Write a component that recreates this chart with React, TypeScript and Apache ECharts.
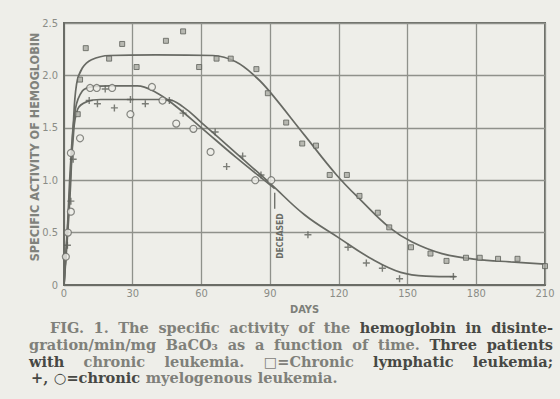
import React, { useEffect, useRef } from "react";
import * as echarts from "echarts";

// Axis ticks
const xTicks = [0, 30, 60, 90, 120, 150, 180, 210];
const yTicks = [0, 0.5, 1.0, 1.5, 2.0, 2.5];

// □ chronic lymphatic leukemia — measured points [day, activity]
const cllPoints: [number, number][] = [
  [6, 1.63], [7, 1.96], [9.5, 2.26], [19.7, 2.16], [25.4, 2.3], [31.7, 2.08],
  [44.5, 2.33], [52, 2.42], [59, 2.08], [66.6, 2.16], [72.8, 2.16], [84, 2.06],
  [89, 1.83], [97, 1.55], [104, 1.35], [110, 1.33], [116, 1.05], [123.5, 1.05],
  [129, 0.85], [137, 0.69], [142, 0.55], [151.5, 0.36], [160, 0.3], [167, 0.23],
  [175.5, 0.26], [181.5, 0.26], [189.5, 0.25], [198, 0.25], [210, 0.18],
];

// + chronic myelogenous leukemia — measured points
const cmlCrossPoints: [number, number][] = [
  [1.5, 0.38], [3, 0.8], [4, 1.2], [11, 1.76], [14.6, 1.73], [18, 1.87],
  [22, 1.69], [29, 1.77], [35.5, 1.73], [46, 1.76], [52, 1.64], [66, 1.46],
  [71, 1.13], [78, 1.23], [86, 1.05], [106.5, 0.48], [124, 0.36], [132, 0.21],
  [139, 0.16], [146.5, 0.06], [170, 0.08],
];

// ○ chronic myelogenous leukemia — measured points
const cmlCirclePoints: [number, number][] = [
  [0.8, 0.27], [1.7, 0.5], [3, 0.7], [3, 1.26], [7, 1.4], [11.4, 1.88],
  [14.3, 1.88], [21, 1.88], [29, 1.63], [38.4, 1.89], [43, 1.76], [49, 1.54],
  [56.5, 1.49], [64, 1.27], [83.5, 1.0], [90.5, 1.0],
];

// Fitted curves
const cllCurve: [number, number][] = [
  [0, 0], [2.5, 0.8], [4, 1.5], [5.5, 1.92], [8, 2.07], [12, 2.15], [20, 2.19],
  [40, 2.195], [65, 2.19], [75, 2.13], [84, 1.98], [90, 1.84], [105, 1.43],
  [119, 1.05], [130, 0.8], [142, 0.55], [152, 0.41], [165, 0.3], [180, 0.245],
  [195, 0.22], [210, 0.2],
];

const cmlCrossCurve: [number, number][] = [
  [0, 0], [2, 0.7], [4, 1.4], [6, 1.68], [10, 1.75], [16, 1.77], [45, 1.77],
  [52, 1.7], [60, 1.55], [75, 1.26], [90, 0.97], [105, 0.67], [120, 0.45],
  [135, 0.24], [147, 0.12], [158, 0.085], [171, 0.08],
];

const cmlCircleCurve: [number, number][] = [
  [0, 0], [1.5, 0.55], [3, 1.2], [5, 1.68], [8, 1.85], [12, 1.89], [20, 1.9],
  [32, 1.9], [40, 1.84], [48, 1.72], [60, 1.5], [75, 1.22], [92, 0.92],
];

const deceasedDay = 92;

// Caption words: [word, tone]  (l = faded print, b = dark print)
const captionLine1: [string, string][] = [
  ["FIG.", "l"], ["1.", "l"], ["The", "l"], ["specific", "l"], ["activity", "l"], ["of", "l"],
  ["the", "l"], ["hemoglobin", "b"], ["in", "b"], ["disinte-", "b"],
];
const captionLine2: [string, string][] = [
  ["gration/min/mg", "l"], ["BaCO₃", "l"], ["as", "l"], ["a", "l"], ["function", "l"],
  ["of", "l"], ["time.", "l"], ["Three", "b"], ["patients", "b"],
];
const captionLine3: [string, string][] = [
  ["with", "b"], ["chronic", "l"], ["leukemia.", "l"], ["□=Chronic", "l"],
  ["lymphatic", "b"], ["leukemia;", "b"],
];
const captionLine4: [string, string][] = [
  ["+,", "b"], ["○=chronic", "b"], ["myelogenous", "l"], ["leukemia.", "l"],
];

const INK = "#686a64";
const GRIDC = "#8f918b";
const PAPER = "#eeeee9";
const LABEL = "#8a8c86";
const PLUS = "path://M4,0H6V4H10V6H6V10H4V6H0V4H4Z";
const SANS = "DejaVu Sans Condensed, DejaVu Sans";
const CAP_SIZE = 14.5;
const CAP_FONT = `bold ${CAP_SIZE}px "DejaVu Serif"`;

export default function App() {
  const ref = useRef<HTMLDivElement>(null);

  useEffect(() => {
    if (!ref.current) return;
    const chart = echarts.init(ref.current, undefined, { renderer: "svg" });
    const lineSeries = (data: [number, number][]) => ({
      type: "line",
      data,
      smooth: 0.4,
      showSymbol: false,
      symbol: "none",
      lineStyle: { color: INK, width: 1.7 },
      z: 2,
    });
    chart.setOption({
      animation: false,
      backgroundColor: PAPER,
      grid: {
        left: 64,
        right: 15,
        top: 23,
        bottom: 114,
        show: true,
        borderColor: "#6a6c66",
        borderWidth: 2,
        backgroundColor: "transparent",
      },
      xAxis: {
        type: "value",
        min: xTicks[0],
        max: xTicks[xTicks.length - 1],
        interval: xTicks[1] - xTicks[0],
        name: "DAYS",
        nameLocation: "middle",
        nameGap: 12,
        nameTextStyle: { color: "#7d7f79", fontSize: 11, fontWeight: "bold", fontFamily: SANS },
        axisLine: { show: true, lineStyle: { color: "#6a6c66", width: 2 } },
        axisTick: { show: false },
        axisLabel: { color: LABEL, fontSize: 11, margin: 3, fontFamily: SANS },
        splitLine: { show: true, lineStyle: { color: GRIDC, width: 1.3 } },
      },
      yAxis: {
        type: "value",
        min: yTicks[0],
        max: yTicks[yTicks.length - 1],
        interval: yTicks[1] - yTicks[0],
        axisLine: { show: true, lineStyle: { color: "#6a6c66", width: 2 } },
        axisTick: { show: false },
        axisLabel: {
          color: LABEL,
          fontSize: 11,
          margin: 6,
          fontFamily: SANS,
          formatter: (v: number) => (v === 0 ? "0" : v.toFixed(1)),
        },
        splitLine: { show: true, lineStyle: { color: GRIDC, width: 1.3 } },
      },
      series: [
        lineSeries(cllCurve),
        lineSeries(cmlCrossCurve),
        lineSeries(cmlCircleCurve),
        {
          type: "scatter",
          data: cllPoints,
          symbol: "rect",
          symbolSize: 5,
          itemStyle: { color: "#a9aaa3", borderColor: "#5e605a", borderWidth: 1 },
          z: 3,
        },
        {
          type: "scatter",
          data: cmlCirclePoints,
          symbol: "circle",
          symbolSize: 7,
          itemStyle: { color: PAPER, borderColor: "#6a6c66", borderWidth: 1.2 },
          z: 3,
        },
        {
          type: "scatter",
          data: cmlCrossPoints,
          symbol: PLUS,
          symbolSize: 7,
          itemStyle: { color: "#5e605a" },
          z: 4,
        },
      ],
    });

    // caption layout: justified lines measured with canvas
    const ctx = document.createElement("canvas").getContext("2d")!;
    ctx.font = CAP_FONT;
    const measure = (s: string) => ctx.measureText(s).width;
    const tones: Record<string, string> = { l: "#7f807a", b: "#474844" };
    const caption: any[] = [];
    const layLine = (
      words: [string, string][],
      x0: number,
      x1: number | null,
      y: number
    ) => {
      const widths = words.map(([w]) => measure(w));
      const total = widths.reduce((a, b) => a + b, 0);
      const space = measure(" ");
      const gap =
        x1 === null ? space * 1.1 : Math.max(space, (x1 - x0 - total) / (words.length - 1));
      let x = x0;
      words.forEach(([w, t], i) => {
        caption.push({
          type: "text",
          x,
          y,
          style: {
            text: w,
            fontFamily: "DejaVu Serif",
            fontSize: CAP_SIZE,
            fontWeight: "bold",
            lineHeight: 14,
            fill: tones[t],
            align: "left",
            verticalAlign: "middle",
          },
        });
        x += widths[i] + gap;
      });
    };
    layLine(captionLine1, 50, 553, 327);
    layLine(captionLine2, 29, 553, 344);
    layLine(captionLine3, 29, 553, 361);
    layLine(captionLine4, 31, null, 377);

    const top = chart.convertToPixel({ gridIndex: 0 }, [deceasedDay, 0.88]) as number[];
    chart.setOption({
      graphic: [
        {
          type: "text",
          x: 34,
          y: 147,
          rotation: Math.PI / 2,
          style: {
            text: "SPECIFIC ACTIVITY OF HEMOGLOBIN",
            fill: "#80827c",
            fontSize: 12.5,
            fontWeight: "bold",
            fontFamily: SANS,
            align: "center",
            verticalAlign: "middle",
          },
        },
        {
          type: "line",
          shape: { x1: top[0], y1: top[1], x2: top[0], y2: top[1] + 16 },
          style: { stroke: INK, lineWidth: 1.3 },
        },
        {
          type: "text",
          x: top[0] + 5,
          y: top[1] + 66,
          rotation: Math.PI / 2,
          style: {
            text: "DECEASED",
            fill: "#6a6c66",
            fontSize: 8.5,
            fontWeight: "bold",
            fontFamily: SANS,
            align: "left",
            verticalAlign: "middle",
          },
        },
        ...caption,
      ],
    });

    return () => chart.dispose();
  }, []);

  return (
    <div ref={ref} style={{ position: "absolute", left: 0, top: 0, width: 560, height: 399 }} />
  );
}
